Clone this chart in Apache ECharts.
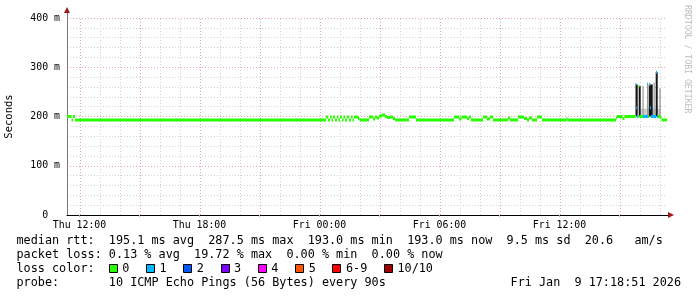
<!DOCTYPE html>
<html><head><meta charset="utf-8">
<script src="https://cdn.jsdelivr.net/npm/echarts@6/dist/echarts.min.js"></script>
<style>html,body{margin:0;padding:0;background:#fff}#c{width:697px;height:297px}</style>
</head><body><div id="c"></div>
<script>
// ---- axis / tick data (x = hours since Thu 00:00, y = milliseconds) ----
const xMin = 11.375, xMax = 41.375;
const xLabelHours = [12, 18, 24, 30, 36];
const xLabelText = ['Thu 12:00', 'Thu 18:00', 'Fri 00:00', 'Fri 06:00', 'Fri 12:00'];
const gridHours = [12,13,14,15,16,17,18,19,20,21,22,23,24,25,26,27,28,29,30,31,32,33,34,35,36,37,38,39,40,41];
const majorHours = [12,15,18,21,24,27,30,33,36,39];
const yMax = 400;
const yTickValues = [0, 100, 200, 300, 400];
const yTickLabels = ['0  ', '100 m', '200 m', '300 m', '400 m'];

// ---- median rtt (step changes): time, value (ms), loss count index ----
const medTimes = [11.375,11.6,11.675,11.775,
  24.325,24.425,24.525,24.6,24.675,24.775,24.875,24.95,25.025,25.125,25.2,25.275,25.375,25.475,25.575,25.65,25.725,25.925,26.0,
  26.475,26.675,26.775,26.875,26.975,27.125,27.275,27.375,27.525,27.675,27.775,
  28.475,28.825,
  30.725,30.975,31.1,31.375,31.475,31.575,
  32.175,32.375,32.525,32.675,
  33.425,33.525,
  33.925,34.225,34.375,34.475,34.625,
  34.875,35.125,
  36.35,36.4,
  38.825,38.875,39.15,39.25,
  39.8,39.84,39.875,39.925,39.96,40.0,40.175,40.425,40.475,40.525,40.575,40.825,40.875,40.925,41.05,41.1];
const medValues = [200,193,200,193,
  199,193,199,193,199,193,199,193,199,193,199,193,199,193,199,193,199,196,193,
  199,195,199,197,201,203,200,198,199,196,193,
  199,193,
  199,195,199,196,199,193,
  199,195,199,193,
  197,193,
  199,196,193,197,193,
  199,193,
  196,193,
  197,200,196,200,
  265,218,200,200,262,200,200,200,265,218,200,290,200,200,197,193];
const medLoss = [0,0,0,0,
  0,0,0,0,0,0,0,0,0,0,0,0,0,0,0,0,0,0,0,
  0,0,0,0,0,0,0,0,0,0,0,
  0,0,
  0,0,0,0,0,0,
  0,0,0,0,
  0,0,
  0,0,0,0,0,
  0,0,
  0,0,
  0,0,0,0,
  1,1,1,0,0,0,1,0,1,1,1,1,1,0,0,0];

// ---- smoke (ping spread) ----
const smokeStart = [40.06, 39.8, 39.96, 40.15, 40.375, 40.46, 40.7, 40.81, 40.99];
const smokeEnd   = [41.05, 39.91, 40.06, 40.21, 40.425, 40.66, 40.76, 40.91, 41.06];
const smokeLow   = [200, 200, 200, 200, 200, 200, 200, 200, 196];
const smokeHigh  = [216, 265, 262, 262, 269, 265, 269, 290, 257];
const smokeShade = [2, 0, 0, 1, 1, 0, 1, 0, 1];
const shadeColors = ['#161616', '#9a9a9a', '#cfcfcf'];

// ---- legend ----
const lossLabels = ['0', '1', '2', '3', '4', '5', '6-9', '10/10'];
const lossColors = ['#26ff00', '#00b8ff', '#0059ff', '#7e00ff', '#ff00ff', '#ff5500', '#ff0000', '#a10000'];
const rttLine = 'median rtt:  195.1 ms avg  287.5 ms max  193.0 ms min  193.0 ms now  9.5 ms sd  20.6   am/s';
const lossLine = 'packet loss: 0.13 % avg  19.72 % max  0.00 % min  0.00 % now';
const lossColorTitle = 'loss color:';
const probeLine = 'probe:       10 ICMP Echo Pings (56 Bytes) every 90s';
const stampText = 'Fri Jan  9 17:18:51 2026';
const watermark = 'RRDTOOL / TOBI OETIKER';
const yName = 'Seconds';

// ---- build ----
const MONO = "'DejaVu Sans Mono', monospace";
const medData = medTimes.map((t, i) => [t, i + 1 < medTimes.length ? medTimes[i + 1] : xMax, medValues[i], medLoss[i]]);
const smokeData = smokeStart.map((t, i) => [t, smokeEnd[i], smokeLow[i], smokeHigh[i], smokeShade[i]]);

const chart = echarts.init(document.getElementById('c'), null, {renderer: 'canvas'});
const option = {
  animation: false,
  backgroundColor: '#ffffff',
  grid: {left: 67, right: 30, top: 18, bottom: 82, containLabel: false, outerBoundsMode: 'none'},
  xAxis: {
    type: 'value', min: xMin, max: xMax,
    axisLine: {show: true, lineStyle: {color: '#000', width: 1}},
    axisTick: {show: true, customValues: majorHours, length: 2, lineStyle: {color: '#e0a0a0'}},
    axisLabel: {customValues: xLabelHours, formatter: v => xLabelText[xLabelHours.indexOf(v)],
      fontFamily: MONO, fontSize: 9.9, color: '#000', margin: 5},
    splitLine: {show: false}
  },
  yAxis: {
    type: 'value', min: 0, max: yMax, interval: 100,
    name: yName, nameLocation: 'middle', nameGap: 52, nameRotate: 90,
    nameTextStyle: {fontFamily: MONO, fontSize: 10.5, color: '#000'},
    axisLine: {show: true, lineStyle: {color: '#777', width: 1}},
    axisTick: {show: false},
    axisLabel: {formatter: v => yTickLabels[yTickValues.indexOf(v)], fontFamily: MONO, fontSize: 9.9, color: '#000', margin: 7},
    splitLine: {show: true, lineStyle: {color: '#e6a8a8', type: [1, 2], width: 1}},
    minorTick: {show: false, splitNumber: 5},
    minorSplitLine: {show: true, lineStyle: {color: '#d2d2d2', type: [1, 2], width: 1}}
  },
  series: [
    {
      type: 'custom', name: 'vgrid', z: 1, silent: true,
      data: gridHours.map(h => [h]),
      encode: {x: 0},
      renderItem: (params, api) => {
        const h = api.value(0);
        const p0 = api.coord([h, 0]), p1 = api.coord([h, yMax]);
        const x = Math.round(p0[0]) + 0.5;
        return {type: 'line', shape: {x1: x, y1: p0[1], x2: x, y2: p1[1]},
          style: {stroke: majorHours.indexOf(h) >= 0 ? '#e6a8a8' : '#d2d2d2', lineWidth: 1, lineDash: [1, 2]}};
      }
    },
    {
      type: 'custom', name: 'smoke', z: 2, silent: true, clip: true,
      data: smokeData,
      encode: {x: [0, 1], y: [2, 3]},
      renderItem: (params, api) => {
        const a = api.coord([api.value(0), api.value(3)]);
        const b = api.coord([api.value(1), api.value(2)]);
        return {type: 'rect', shape: {x: a[0], y: a[1], width: b[0] - a[0], height: b[1] - a[1]},
          style: {fill: shadeColors[api.value(4)]}};
      }
    },
    {
      type: 'custom', name: 'median', z: 3, silent: true, clip: true,
      data: medData,
      encode: {x: [0, 1], y: 2},
      renderItem: (params, api) => {
        const a = api.coord([api.value(0), api.value(2)]);
        const b = api.coord([api.value(1), api.value(2)]);
        return {type: 'rect', shape: {x: a[0], y: a[1] - 1.5, width: Math.max(b[0] - a[0], 0.6), height: 3},
          style: {fill: lossColors[api.value(3)]}};
      }
    }
  ]
};
chart.setOption(option);

// decorations: axis arrows, legend text, watermark
const o = chart.convertToPixel({gridIndex: 0}, [xMin, 0]);
const e = chart.convertToPixel({gridIndex: 0}, [xMax, yMax]);
const FS = 11.8, CW = FS * 0.602;
const LX = 16.5;
const rows = [241, 255, 269, 283];
const g = [];
function txt(s, x, y, align, font, fill, rot) {
  g.push({type: 'text', x: x, y: y, rotation: rot || 0, silent: true,
    style: {text: s, font: font || (FS + 'px ' + MONO), fill: fill || '#000',
      align: align || 'left', verticalAlign: 'middle', textAlign: align || 'left', textVerticalAlign: 'middle'}});
}
// axis extensions + arrows
g.push({type: 'line', silent: true, shape: {x1: e[0], y1: Math.round(o[1]) + 0.5, x2: e[0] + 4, y2: Math.round(o[1]) + 0.5}, style: {stroke: '#000', lineWidth: 1}});
g.push({type: 'polygon', silent: true, shape: {points: [[e[0] + 1, o[1] - 3], [e[0] + 7, o[1]], [e[0] + 1, o[1] + 3]]}, style: {fill: '#a01818'}});
g.push({type: 'line', silent: true, shape: {x1: Math.round(o[0]) + 0.5, y1: e[1], x2: Math.round(o[0]) + 0.5, y2: e[1] - 5}, style: {stroke: '#777', lineWidth: 1}});
g.push({type: 'polygon', silent: true, shape: {points: [[o[0] - 3, e[1] - 5], [o[0], e[1] - 11], [o[0] + 3, e[1] - 5]]}, style: {fill: '#a01818'}});

txt(rttLine, LX, rows[0]);
txt(lossLine, LX, rows[1]);
txt(lossColorTitle, LX, rows[2]);
txt(probeLine, LX, rows[3]);
txt(stampText, 681, rows[3], 'right');
let bx = LX + 13 * CW - 0.2;
lossLabels.forEach((lab, i) => {
  g.push({type: 'rect', silent: true, shape: {x: Math.round(bx) + 0.5, y: rows[2] - 4.5, width: 8, height: 8},
    style: {fill: lossColors[i], stroke: '#000', lineWidth: 1}});
  txt(lab, bx + 13.5, rows[2]);
  bx += 13.5 + (lab.length + 2.35) * CW;
});
txt(watermark, 687, 5, 'left', '8.2px ' + MONO, '#bdbdbd', -Math.PI / 2);
chart.setOption({graphic: g});
</script></body></html>
